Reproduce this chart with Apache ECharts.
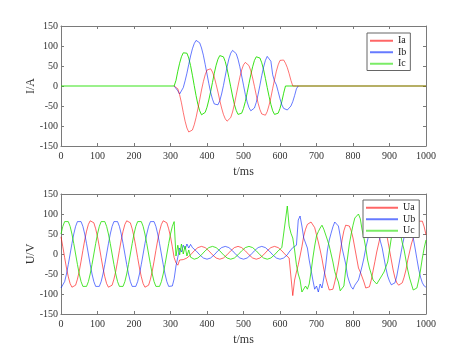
<!DOCTYPE html>
<html>
<head>
<meta charset="utf-8">
<script src="https://cdn.jsdelivr.net/npm/echarts@6/dist/echarts.min.js"></script>
<style>
  html, body { margin: 0; padding: 0; background: #fff; }
  #chart { width: 471px; height: 353px; }
</style>
</head>
<body>
<div id="chart"></div>
<script>
// sample times (ms) of the current plot: 0, then 310..650 every 5 ms, then 1000
const iTime = [0];
for (let t = 310; t <= 650; t += 5) iTime.push(t);
iTime.push(1000);

const Ia = [null,
  0, -2, -7, -22, -42, -66, -88, -105, -115, -116, -110, -97, -79, -57, -34, -10, 11, 28, 40, 45,
  43, 35, 22, 4, -15, -36, -55, -71, -82, -88, -87, -79, -65, -46, -23, 0, 22, 40, 53, 59,
  59, 51, 38, 20, -1, -23, -43, -59, -70, -75, -73, -64, -48, -29, -6, 16, 37, 53, 64, 67,
  65, 57, 46, 31, 14, 0, 0, 0, 0,
  0];
const Ib = [null,
  0, 0, -12, -20, -15, -4, 13, 32, 54, 75, 93, 106, 114, 114, 108, 95, 77, 54, 30, 6,
  -16, -33, -45, -50, -47, -37, -20, 1, 25, 48, 68, 82, 89, 89, 81, 67, 48, 25, 2, -21,
  -40, -54, -62, -62, -55, -41, -21, 2, 26, 47, 64, 74, 76, 62, 28, 12, 3, -14, -32, -47,
  -56, -60, -60, -57, -50, -39, -24, -7, 0,
  null];
const Ic = [0,
  0, 14, 37, 57, 73, 83, 86, 82, 70, 51, 27, 1, -24, -46, -62, -72, -72, -66, -53, -35,
  -14, 9, 32, 52, 67, 76, 78, 73, 61, 43, 21, -2, -25, -46, -61, -71, -73, -68, -56, -39,
  -17, 6, 28, 48, 64, 73, 75, 70, 58, 41, 19, -4, -26, -46, -62, -71, -73, -68, -56, -39,
  -18, 0, 0, 0, 0, 0, 0, 0, 0,
  0];

// voltage plot: one sample every 5 ms from 0 to 1000
const stepMs = 5;
const Ua = [
  43, 18, -9, -35, -57, -74, -83, -85, -78, -63, -43, -18, 9, 35, 57, 74, 83, 85, 78, 63,
  43, 18, -9, -35, -57, -74, -83, -85, -78, -63, -43, -18, 9, 35, 57, 74, 83, 85, 78, 63,
  43, 18, -9, -35, -57, -74, -83, -85, -78, -63, -43, -18, 9, 35, 57, 74, 83, 85, 78, 63,
  43, 18, -9,
  -22, -28, -15, -20, -14, -16, -10, -8, -2, 3,
  8, 12, 16, 18, 19, 18, 16, 12, 8, 3, -2, -6, -10, -12, -13, -12, -10, -6, -2, 3,
  8, 12, 16, 18, 19, 18, 16, 12, 8, 3, -2, -6, -10, -12, -13, -12, -10, -6, -2, 3,
  8, 12, 16, 18, 19, 18, 16, 12, 8, 3,
  -2, -6, -10, -14, -104, -65, -45, -27, -5, 18, 45, 62, 74, 78, 80, 76, 66, 48, 30, 10,
  -12, -38, -58, -75, -90, -85, -88, -70, -50, -25, 5, 35, 58, 72, 75, 70, 58, 40, 15, -10,
  -35, -45, -50, -70, -85, -86, -82, -65, -42, -19, 5, 25, 45, 62, 70, 60, 35, 10, -15, -40,
  -60, -72, -78, -74, -72, -58, -40, -15, 5, 25, 40, 58, 72, 82, 86, 82, 68, 48];
const Ub = [
  -85, -81, -69, -50, -26, 0, 26, 50, 69, 81, 85, 81, 69, 50, 26, 0, -26, -50, -69, -81,
  -85, -81, -69, -50, -26, 0, 26, 50, 69, 81, 85, 81, 69, 50, 26, 0, -26, -50, -69, -81,
  -85, -81, -69, -50, -26, 0, 26, 50, 69, 81, 85, 81, 69, 50, 26, 0, -26, -50, -69, -81,
  -85, -80, -62,
  -30, -8, 15, 5, 22, 12, 25, 15, 24, 16,
  12, 8, 3, -2, -6, -10, -12, -13, -12, -10, -6, -2, 3, 8, 12, 16, 18, 19, 18, 16,
  12, 8, 3, -2, -6, -10, -12, -13, -12, -10, -6, -2, 3, 8, 12, 16, 18, 19, 18, 16,
  12, 8, 3, -2, -6, -10, -12, -13, -12, -10,
  -6, -2, 5, 10, 16, 18, 22, 85, 95, 70, 40, 35, 15, -15, -40, -65, -88, -80, -95, -75,
  -85, -60, -30, 10, 35, 52, 68, 80, 84, 70, 45, 15, -5, -25, -55, -70, -82, -88, -78, -82,
  -65, -48, -30, -10, 15, 35, 55, 70, 78, 75, 65, 50, 32, 15, -10, -35, -55, -68, -77, -80,
  -72, -55, -30, -5, 20, 42, 60, 70, 72, 62, 40, 15, -12, -38, -58, -72, -80, -83];
const Uc = [
  50, 69, 81, 85, 81, 69, 50, 26, 0, -26, -50, -69, -81, -85, -81, -69, -50, -26, 0, 26,
  50, 69, 81, 85, 81, 69, 50, 26, 0, -26, -50, -69, -81, -85, -81, -69, -50, -26, 0, 26,
  50, 69, 81, 85, 81, 69, 50, 26, 0, -26, -50, -69, -81, -85, -81, -69, -50, -26, 0, 26,
  50, 69, 81,
  -5, 22, -2, 25, 0, 20, -5, 10, -8, -12,
  -13, -12, -10, -6, -2, 3, 8, 12, 16, 18, 19, 18, 16, 12, 8, 3, -2, -6, -10, -12,
  -13, -12, -10, -6, -2, 3, 8, 12, 16, 18, 19, 18, 16, 12, 8, 3, -2, -6, -10, -12,
  -13, -12, -10, -6, -2, 3, 8, 12, 16, 18,
  85, 120, 70, 52, 40, 10, -27, -50, -65, -95, -90, -80, -88, -75, -45, -10, 20, 45, 56, 65,
  72, 62, 65, 35, 20, 0, -20, -44, -58, -70, -92, -95, -80, -40, -10, 25, 50, 72, 90, 85,
  100, 88, 60, 40, 15, -15, -35, -50, -65, -60, -75, -73, -60, -55, -45, -50, -20, 10, 40, 65,
  80, 85, 70, 50, 28, 10, -15, -40, -60, -75, -90, -94, -85, -65, -40, -10, 15, 35];

const xTicks = [0, 1000, 100];
const yTicks = [-150, 150, 50];
const lineColors = { a: '#ff0000', b: '#0022ff', c: '#22e000' };

[Ia, Ib, Ic].forEach(a => { if (a.length !== iTime.length) throw new Error('current length ' + a.length); });
[Ua, Ub, Uc].forEach(a => { if (a.length !== 201) throw new Error('voltage length ' + a.length); });

const pairs = (ts, vs) => vs.map((v, i) => [ts[i], v]);
const uPairs = vs => vs.map((v, i) => [i * stepMs, v]);

const font = 'Liberation Serif';
const axisGray = '#7a7a7a';
const plain = v => String(v);

function mainX(grid, name) {
  return {
    type: 'value', gridIndex: grid, min: xTicks[0], max: xTicks[1], interval: xTicks[2],
    name: name, nameLocation: 'middle', nameGap: 20,
    nameTextStyle: { fontFamily: font, fontSize: 12, color: '#333' },
    axisLine: { onZero: false, lineStyle: { color: axisGray, width: 1 } },
    axisTick: { inside: true, length: 3, lineStyle: { color: axisGray } },
    axisLabel: { fontFamily: font, fontSize: 10, color: '#333', margin: 5, formatter: plain },
    splitLine: { show: false }
  };
}
function sideX(grid) {
  return {
    type: 'value', gridIndex: grid, position: 'top', min: xTicks[0], max: xTicks[1], interval: xTicks[2],
    axisLine: { onZero: false, lineStyle: { color: axisGray, width: 1 } },
    axisTick: { inside: true, length: 3, lineStyle: { color: axisGray } },
    axisLabel: { show: false }, splitLine: { show: false }
  };
}
function mainY(grid, name) {
  return {
    type: 'value', gridIndex: grid, min: yTicks[0], max: yTicks[1], interval: yTicks[2],
    name: name, nameLocation: 'middle', nameGap: 24, nameRotate: 90, nameMoveOverlap: false,
    nameTextStyle: { fontFamily: font, fontSize: 12, color: '#333' },
    axisLine: { show: true, onZero: false, lineStyle: { color: axisGray, width: 1 } },
    axisTick: { show: true, inside: true, length: 3, lineStyle: { color: axisGray } },
    axisLabel: { fontFamily: font, fontSize: 10, color: '#333', margin: 3, formatter: plain },
    splitLine: { show: false }
  };
}
function sideY(grid) {
  return {
    type: 'value', gridIndex: grid, position: 'right', min: yTicks[0], max: yTicks[1], interval: yTicks[2],
    axisLine: { show: true, onZero: false, lineStyle: { color: axisGray, width: 1 } },
    axisTick: { show: true, inside: true, length: 3, lineStyle: { color: axisGray } },
    axisLabel: { show: false }, splitLine: { show: false }
  };
}

function line(name, data, color, opacity, xi, yi) {
  return {
    name: name, type: 'line', data: data, xAxisIndex: xi, yAxisIndex: yi,
    showSymbol: false, symbol: 'none', connectNulls: false,
    itemStyle: { color: color },
    lineStyle: { color: color, width: 1, opacity: opacity },
    emphasis: { disabled: true }
  };
}

function legendBox(names, left, top, itemWidth) {
  const cols = [lineColors.a, lineColors.b, lineColors.c];
  return {
    data: names.map((n, i) => ({
      name: n, icon: 'rect',
      itemStyle: { color: cols[i], borderColor: cols[i], borderWidth: 0, opacity: 0.6 },
      lineStyle: { color: cols[i], width: 1, opacity: 0.6 }
    })),
    orient: 'vertical', left: left, top: top,
    itemWidth: itemWidth, itemHeight: 2, itemGap: 0,
    padding: [2, 4, 1, 3],
    backgroundColor: '#fff', borderColor: '#666', borderWidth: 1, borderRadius: 0,
    textStyle: { fontFamily: font, fontSize: 10, color: '#222', lineHeight: 11.5 },
    selectedMode: false
  };
}

const chart = echarts.init(document.getElementById('chart'), null, { renderer: 'canvas' });
chart.setOption({
  animation: false,
  backgroundColor: '#fff',
  grid: [
    { left: 61, right: 45, top: 26, height: 120 },
    { left: 61, right: 45, top: 194, height: 120 }
  ],
  xAxis: [mainX(0, 't/ms'), sideX(0), mainX(1, 't/ms'), sideX(1)],
  yAxis: [mainY(0, 'I/A'), sideY(0), mainY(1, 'U/V'), sideY(1)],
  legend: [
    legendBox(['Ia', 'Ib', 'Ic'], 367, 33, 23),
    legendBox(['Ua', 'Ub', 'Uc'], 363, 200, 32)
  ],
  series: [
    line('Ic', pairs(iTime, Ic), lineColors.c, 0.9, 0, 0),
    line('Ib', pairs(iTime, Ib), lineColors.b, 0.6, 0, 0),
    line('Ia', pairs(iTime, Ia), lineColors.a, 0.55, 0, 0),
    line('Ua', uPairs(Ua), lineColors.a, 0.6, 2, 2),
    line('Ub', uPairs(Ub), lineColors.b, 0.6, 2, 2),
    line('Uc', uPairs(Uc), lineColors.c, 0.8, 2, 2)
  ]
});
</script>
</body>
</html>
